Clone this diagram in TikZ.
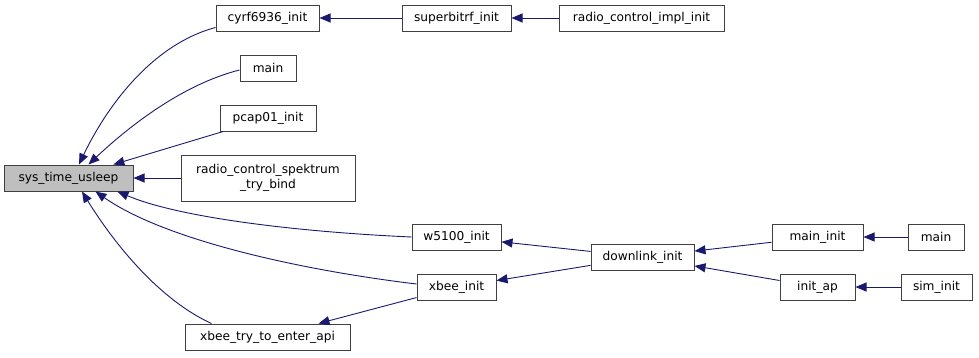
\documentclass[tikz,border=0pt]{standalone}
\usepackage{fontspec}
\setmainfont{DejaVu Sans}
\usetikzlibrary{arrows.meta}
\definecolor{edgeblue}{HTML}{191970}
\definecolor{boxline}{HTML}{404040}
\definecolor{hilite}{HTML}{BFBFBF}
\tikzset{
  fn/.style={draw=boxline, line width=1pt, fill=white, inner sep=0pt,
             minimum height=26pt, font=\fontsize{12.2}{14.5}\selectfont, align=center},
  cur/.style={fn, fill=hilite},
  edge/.style={draw=edgeblue, line width=0.9pt,
               -{Triangle[length=11pt,width=9pt]}},
}
\begin{document}
\begin{tikzpicture}[x=1pt,y=-1pt]
\useasboundingbox (0,0) rectangle (979,357);

% functions
\node[cur, minimum width=129pt] (sys) at (68.5,178) {sys\_time\_usleep};
\node[fn, minimum width=103pt] (cyrf) at (267.5,18) {cyrf6936\_init};
\node[fn, minimum width=109pt] (sbrf) at (456.5,18) {superbitrf\_init};
\node[fn, minimum width=165pt] (rcimpl) at (641.5,18) {radio\_control\_impl\_init};
\node[fn, minimum width=56pt] (mainA) at (268,68) {main};
\node[fn, minimum width=96pt] (pcap) at (268,118) {pcap01\_init};
\node[fn, minimum width=174pt, minimum height=46pt] (spek) at (268,178) {radio\_control\_spektrum\\\_try\_bind};
\node[fn, minimum width=89pt] (w5100) at (456.5,237) {w5100\_init};
\node[fn, minimum width=79pt] (xbee) at (456.5,287) {xbee\_init};
\node[fn, minimum width=165pt] (xtry) at (267.5,337) {xbee\_try\_to\_enter\_api};
\node[fn, minimum width=103pt] (dl) at (642.5,257) {downlink\_init};
\node[fn, minimum width=91pt] (minit) at (817.5,237) {main\_init};
\node[fn, minimum width=75pt] (iap) at (817.5,287) {init\_ap};
\node[fn, minimum width=56pt] (mainB) at (936,237) {main};
\node[fn, minimum width=71pt] (sim) at (936.5,287) {sim\_init};

% callers of sys_time_usleep
\draw[edge] ([yshift=4pt]cyrf.south west) .. controls (150,45) and (105,110) .. ([xshift=10.5pt]sys.north);
\draw[edge] ([yshift=-2pt]mainA.west) .. controls (180,85) and (125,130) .. ([xshift=20pt]sys.north);
\draw[edge] (pcap) -- (sys);
\draw[edge] (spek) -- (sys);
\draw[edge] (w5100.west) .. controls (300,232) and (180,218) .. ([xshift=-16pt]sys.south east);
\draw[edge] ([yshift=3pt]xbee.west) .. controls (300,270) and (165,240) .. ([xshift=27pt]sys.south);
\draw[edge] ([xshift=27pt]xtry.north west) .. controls (160,300) and (115,245) .. ([xshift=13.5pt]sys.south);

% remaining call chains
\draw[edge] (sbrf) -- (cyrf);
\draw[edge] (rcimpl) -- (sbrf);
\draw[edge] (dl) -- (w5100);
\draw[edge] (dl) -- (xbee);
\draw[edge] (xbee) -- (xtry);
\draw[edge] (minit) -- (dl);
\draw[edge] (iap) -- (dl);
\draw[edge] (mainB) -- (minit);
\draw[edge] (sim) -- (iap);
\end{tikzpicture}
\end{document}
